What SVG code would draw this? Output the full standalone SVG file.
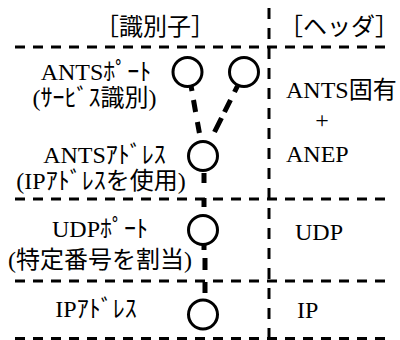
<svg xmlns="http://www.w3.org/2000/svg" width="400" height="340" viewBox="0 0 400 340">
<style>
  .t { font-family: "Liberation Serif", "Noto Sans CJK JP", serif; font-size: 24px; fill: #000; }
  .h { font-family: "Noto Sans CJK JP", sans-serif; font-size: 24px; fill: #000; }
  .grid { stroke: #000; stroke-width: 3; fill: none; }
  .hl { stroke-dasharray: 10 8; }
  .vl { stroke-dasharray: 11 9; }
  .port { stroke: #000; stroke-width: 3; fill: #fff; }
  .conn { stroke: #000; stroke-width: 5; fill: none; stroke-linecap: butt; }
</style>
<rect width="400" height="340" fill="#fff"/>
<g id="grid" class="grid">
  <line class="hl" x1="15" y1="47" x2="390" y2="47"/>
  <line class="hl" x1="15" y1="199" x2="390" y2="199"/>
  <line class="hl" x1="15" y1="281" x2="390" y2="281"/>
  <line class="hl" x1="15" y1="338.5" x2="390" y2="338.5"/>
  <line class="vl" x1="269" y1="8" x2="269" y2="340"/>
</g>
<g id="header-identifier"><text class="h" x="95" y="35">［識別子］</text></g>
<g id="header-header"><text class="h" x="279" y="35">［ヘッダ］</text></g>
<g id="connectors" class="conn">
  <path d="M191,86L192,91 M193.5,100L195.6,112 M197.4,122L199.4,133"/>
  <path d="M237.5,86L234.5,92 M230.5,100L224.5,112 M221.5,118L214.5,132"/>
  <path d="M204,173V183 M204,198V207"/>
  <path d="M204,244V250 M205,258V270 M205,282V293"/>
</g>
<g id="ants-port">
  <circle class="port" cx="187.5" cy="72" r="14.5"/>
  <circle class="port" cx="244" cy="72" r="14.5"/>
  <text class="t" x="96" y="80" text-anchor="middle">ANTSﾎﾟｰﾄ</text>
  <text class="t" x="94.5" y="106" text-anchor="middle">(ｻｰﾋﾞｽ識別)</text>
</g>
<g id="ants-address">
  <circle class="port" cx="203" cy="156" r="14.5"/>
  <text class="t" x="104.5" y="163" text-anchor="middle">ANTSｱﾄﾞﾚｽ</text>
  <text class="t" x="101" y="189" text-anchor="middle">(IPｱﾄﾞﾚｽを使用)</text>
</g>
<g id="udp-port">
  <circle class="port" cx="203" cy="230" r="14.5"/>
  <text class="t" x="100" y="237" text-anchor="middle">UDPﾎﾟｰﾄ</text>
  <text class="t" x="100" y="268" text-anchor="middle">(特定番号を割当)</text>
</g>
<g id="ip-address">
  <circle class="port" cx="203" cy="314.5" r="14.5"/>
  <text class="t" x="96" y="317" text-anchor="middle">IPｱﾄﾞﾚｽ</text>
</g>
<g id="hdr-ants">
  <text class="t" x="286" y="98">ANTS固有</text>
  <text class="t" x="322" y="128" text-anchor="middle">+</text>
  <text class="t" x="286" y="162">ANEP</text>
</g>
<g id="hdr-udp"><text class="t" x="295" y="240">UDP</text></g>
<g id="hdr-ip"><text class="t" x="297" y="318">IP</text></g>
</svg>
